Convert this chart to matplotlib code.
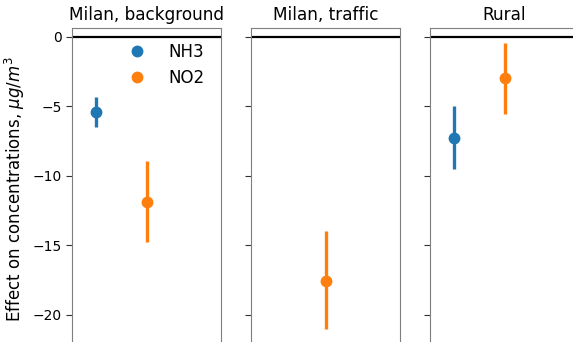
import matplotlib
matplotlib.use("Agg")
import matplotlib.pyplot as plt
from matplotlib.lines import Line2D

# Sites (one panel each) and pollutants
sites = ["Milan, background", "Milan, traffic", "Rural"]
pollutants = ["NH3", "NO2"]
colors = {"NH3": "#1f77b4", "NO2": "#ff7f0e"}

# Estimated effect on concentrations (µg/m3) with confidence intervals
estimate = {
    "Milan, background": {"NH3": -5.45, "NO2": -11.9},
    "Milan, traffic": {"NO2": -17.55},
    "Rural": {"NH3": -7.26, "NO2": -3.0},
}
ci_low = {
    "Milan, background": {"NH3": -6.49, "NO2": -14.79},
    "Milan, traffic": {"NO2": -21.04},
    "Rural": {"NH3": -9.5, "NO2": -5.53},
}
ci_high = {
    "Milan, background": {"NH3": -4.33, "NO2": -8.95},
    "Milan, traffic": {"NO2": -13.95},
    "Rural": {"NH3": -5.0, "NO2": -0.43},
}

yticks = [0, -5, -10, -15, -20]
offsets = {"NH3": -0.336, "NO2": 0.0}

W, H = 573, 342
fig = plt.figure(figsize=(W / 100, H / 100), dpi=100)

lefts = [72, 251, 430]
width = 149
top = 28.3
bottom = 343.5

axes = []
for i, site in enumerate(sites):
    ax = fig.add_axes([lefts[i] / W, 1 - bottom / H, width / W, (bottom - top) / H],
                      sharey=axes[0] if axes else None)
    axes.append(ax)
    for pol in pollutants:
        if pol not in estimate[site]:
            continue
        y = estimate[site][pol]
        lo = ci_low[site][pol]
        hi = ci_high[site][pol]
        ax.errorbar([offsets[pol]], [y], yerr=[[y - lo], [hi - y]], fmt="o",
                    color=colors[pol], ms=7.5, elinewidth=2.4, capsize=0)
    ax.axhline(0, color="black", lw=1.6)
    ax.set_xlim(-0.5, 0.5)
    ax.set_xticks([])
    ax.set_title(site, fontsize=12.2)
    for s in ["left", "right", "top"]:
        ax.spines[s].set_color("#7f7f7f")
    ax.spines["bottom"].set_visible(False)
    ax.tick_params(axis="y", labelsize=10, color="#333333", length=4)
    if i > 0:
        ax.tick_params(axis="y", labelleft=False)

axes[0].set_ylim(-22.07, 0.6)
axes[0].set_yticks(yticks)
axes[0].set_ylabel("Effect on concentrations, $\\mu g/m^3$", fontsize=12)
axes[0].yaxis.label.set_y(0.49)

handles = [Line2D([], [], marker="o", ls="", color=colors[p], ms=7.5)
           for p in pollutants]
axes[0].legend(handles, pollutants, loc="upper right", frameon=False,
               fontsize=12, handletextpad=0.9, borderaxespad=0.3,
               labelspacing=0.5, bbox_to_anchor=(1 - 5 / 149, 1 - 3 / 315))

fig.savefig("out.png", dpi=100)
